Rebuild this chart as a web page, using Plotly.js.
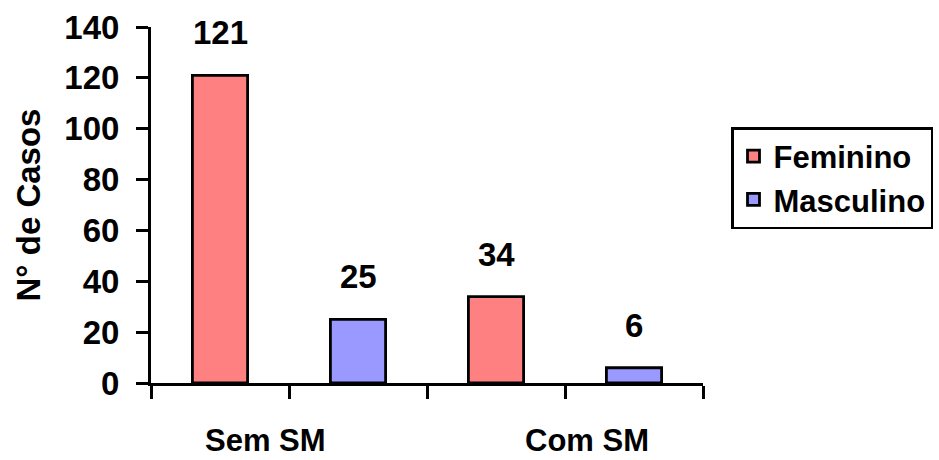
<!DOCTYPE html>
<html>
<head>
<meta charset="utf-8">
<script src="https://cdn.plot.ly/plotly-3.0.1.min.js"></script>
<style>
  html, body { margin: 0; padding: 0; background: #ffffff; }
  #chart { width: 939px; height: 460px; }
</style>
</head>
<body>
<div id="chart"></div>
<script>
// Number of cases by group and sex
const categories = ["Sem SM", "Com SM"];
const seriesNames = ["Feminino", "Masculino"];
const feminino = [121, 34];
const masculino = [25, 6];
const yTicks = [0, 20, 40, 60, 80, 100, 120, 140];

// Each category occupies two slots on the x axis: one per sex
const femX = categories.map((c, i) => 2 * i + 0.5);
const mascX = categories.map((c, i) => 2 * i + 1.5);

// Where the category captions sit along the x axis
const captionX = [0.83, 3.16];

const FONT = "Liberation Sans, Arial, sans-serif";
const edge = { color: "#000000", width: 2.8 };

const traces = [
  {
    type: "bar", name: seriesNames[0], x: femX, y: feminino, width: 0.4,
    marker: { color: "#FF8080", line: edge }, hoverinfo: "y"
  },
  {
    type: "bar", name: seriesNames[1], x: mascX, y: masculino, width: 0.4,
    marker: { color: "#9999FF", line: edge }, hoverinfo: "y"
  }
];

const valueLabels = [];
[[femX, feminino], [mascX, masculino]].forEach(([xs, ys]) => {
  xs.forEach((x, i) => {
    valueLabels.push({
      x: x, y: ys[i], xref: "x", yref: "y",
      text: String(ys[i]), showarrow: false,
      yanchor: "bottom", yshift: 22,
      font: { family: FONT, size: 33, color: "#000000", weight: "bold" }
    });
  });
});

const captions = categories.map((c, i) => ({
  x: captionX[i], y: 0, xref: "x", yref: "paper",
  text: c, showarrow: false, yanchor: "middle", yshift: -57,
  font: { family: FONT, size: 31, color: "#000000", weight: "bold" }
}));

const layout = {
  width: 939, height: 460,
  margin: { l: 151, r: 236, t: 27, b: 77 },
  paper_bgcolor: "#ffffff", plot_bgcolor: "#ffffff",
  font: { family: FONT, color: "#000000", weight: "bold" },
  bargap: 0,
  xaxis: {
    range: [0, 4], tickvals: [0, 1, 2, 3, 4], ticktext: ["", "", "", "", ""],
    ticks: "outside", ticklen: 13, tickwidth: 3, tickcolor: "#000000",
    showline: true, linecolor: "#000000", linewidth: 3,
    showgrid: false, zeroline: false, fixedrange: true
  },
  yaxis: {
    range: [0, 140], tickvals: yTicks,
    ticks: "outside", ticklen: 12, tickwidth: 3, tickcolor: "#000000",
    ticklabelstandoff: 10,
    tickfont: { family: FONT, size: 33, color: "#000000", weight: "bold" },
    showline: true, linecolor: "#000000", linewidth: 3,
    showgrid: false, zeroline: false, fixedrange: true,
    title: {
      text: "N° de Casos", standoff: 14,
      font: { family: FONT, size: 33, color: "#000000", weight: "bold" }
    }
  },
  legend: {
    xref: "container", yref: "container",
    x: 731 / 939, y: 1 - 127 / 460,
    xanchor: "left", yanchor: "top",
    bordercolor: "#000000", borderwidth: 2.5, bgcolor: "#ffffff",
    font: { family: FONT, size: 31, color: "#000000", weight: "bold" },
    tracegroupgap: 0, itemwidth: 30
  },
  annotations: valueLabels.concat(captions),
  showlegend: true
};

Plotly.newPlot("chart", traces, layout, { displayModeBar: false, staticPlot: true });
</script>
</body>
</html>
